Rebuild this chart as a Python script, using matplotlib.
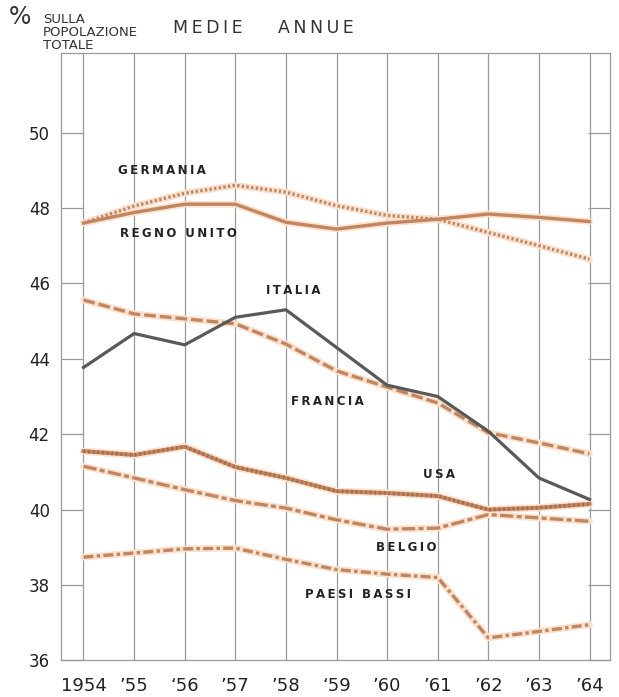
import matplotlib.pyplot as plt
from matplotlib.transforms import ScaledTranslation

# anni e valori (% sulla popolazione totale, medie annue)
years = [1954, 1955, 1956, 1957, 1958, 1959, 1960, 1961, 1962, 1963, 1964]
year_labels = ['1954', '’55', '‘56', '’57', '’58', '‘59', '’60', '’61', '’62', '’63', '’64']

germania = [47.6, 48.05, 48.39, 48.6, 48.42, 48.06, 47.8, 47.7, 47.35, 47.0, 46.64]
regno_unito = [47.6, 47.88, 48.1, 48.1, 47.62, 47.44, 47.6, 47.7, 47.84, 47.75, 47.64]
italia = [43.77, 44.67, 44.37, 45.1, 45.3, 44.3, 43.3, 43.0, 42.08, 40.84, 40.27]
francia = [45.56, 45.19, 45.06, 44.93, 44.39, 43.68, 43.25, 42.83, 42.04, 41.77, 41.48]
usa = [41.55, 41.45, 41.67, 41.13, 40.84, 40.49, 40.44, 40.36, 40.0, 40.05, 40.15]
belgio = [41.15, 40.84, 40.53, 40.24, 40.04, 39.73, 39.48, 39.51, 39.87, 39.78, 39.69]
paesi_bassi = [38.74, 38.85, 38.96, 38.98, 38.68, 38.41, 38.29, 38.2, 36.6, 36.77, 36.95]

y_ticks = [36, 38, 40, 42, 44, 46, 48, 50]

orange = '#c3855e'
halo = '#f9e2cf'
grey = '#595959'
gridc = '#9a9a9a'

fig = plt.figure(figsize=(6.19, 6.97), dpi=100)
ax = fig.add_axes([0.0985, 0.0524, 0.887, 0.8716])

# griglia verticale
for x in years:
    ax.axvline(x, color=gridc, lw=0.9, zorder=0)


def draw(vals, ls, color=orange, lw=2.4, glow=True):
    if glow:
        ax.plot(years, vals, color=halo, lw=lw + 2.5, solid_capstyle='round', zorder=1)
    ax.plot(years, vals, color=color, lw=lw, linestyle=ls, zorder=3)


draw(germania, (0, (0.7, 0.7)))
draw(regno_unito, '-')
draw(francia, (0, (3.5, 1.2)))
draw(usa, '-', lw=2.8)
ax.plot(years, usa, color='#a5694a', lw=2.8, linestyle=(0, (0.4, 0.8)), zorder=4)
draw(belgio, (0, (4, 1, 1.5, 1)))
draw(paesi_bassi, (0, (3, 1, 1, 1)))
draw(italia, '-', color=grey, lw=2.3, glow=False)


def spaced(s):
    return '\u2009'.join(s)


lab = dict(fontsize=8.5, fontweight='bold', color='#222222', ha='center', va='center')
ax.text(1955.55, 48.99, spaced('GERMANIA'), **lab)
ax.text(1955.87, 47.31, spaced('REGNO UNITO'), **lab)
ax.text(1958.14, 45.8, spaced('ITALIA'), **lab)
ax.text(1958.81, 42.87, spaced('FRANCIA'), **lab)
ax.text(1961.03, 40.93, spaced('USA'), **lab)
ax.text(1960.37, 39.0, spaced('BELGIO'), **lab)
ax.text(1959.42, 37.75, spaced('PAESI BASSI'), **lab)

ax.set_xlim(1953.555, 1964.405)
ax.set_ylim(36, 52.11)
ax.set_xticks(years)
ax.set_xticklabels(year_labels, fontsize=13, color='#222222')
for t in ax.get_xticklabels()[1:]:
    t.set_transform(t.get_transform() + ScaledTranslation(8 / 100, 0, fig.dpi_scale_trans))
ax.set_yticks(y_ticks)
ax.set_yticklabels([str(t) for t in y_ticks], fontsize=12, color='#222222')
ax.tick_params(axis='y', direction='in', length=16, width=0.9, color=gridc,
               left=True, right=True, pad=8)
ax.tick_params(axis='x', length=0, pad=12)
for s in ax.spines.values():
    s.set_color(gridc)
    s.set_linewidth(0.9)

fig.text(0.014, 0.975, '%', fontsize=17, color='#333333', va='center')
fig.text(0.069, 0.954, 'SULLA\nPOPOLAZIONE\nTOTALE', fontsize=9.5, color='#333333',
         va='center', linespacing=1.0)
fig.text(0.279, 0.9605, spaced('MEDIE'), fontsize=12.5, color='#333333', va='center')
fig.text(0.449, 0.9605, spaced('ANNUE'), fontsize=12.5, color='#333333', va='center')

fig.savefig('out.png', dpi=100)
